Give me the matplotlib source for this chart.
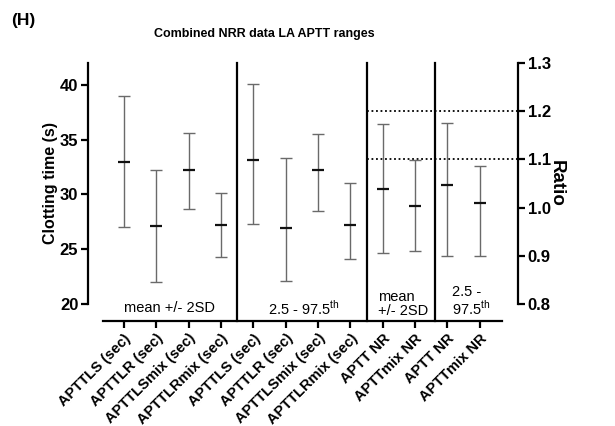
import numpy as np
import matplotlib
matplotlib.use('Agg')
import matplotlib.pyplot as plt

plt.rcParams['font.family'] = ['Liberation Sans', 'DejaVu Sans']
plt.rcParams['mathtext.fontset'] = 'custom'
plt.rcParams['mathtext.rm'] = 'Liberation Sans'

# ---- data ----
labels = ['APTTLS (sec)', 'APTTLR (sec)', 'APTTLSmix (sec)', 'APTTLRmix (sec)',
          'APTTLS (sec)', 'APTTLR (sec)', 'APTTLSmix (sec)', 'APTTLRmix (sec)',
          'APTT NR', 'APTTmix NR', 'APTT NR', 'APTTmix NR']

time_mean = [33.0, 27.1, 32.2, 27.2, 33.1, 26.9, 32.2, 27.2]
time_low = [27.0, 22.0, 28.7, 24.3, 27.3, 22.1, 28.45, 24.1]
time_high = [39.0, 32.2, 35.6, 30.1, 40.1, 33.3, 35.5, 31.0]

ratio_mean = [1.039, 1.004, 1.047, 1.009]
ratio_low = [0.906, 0.910, 0.900, 0.900]
ratio_high = [1.173, 1.098, 1.176, 1.087]

th = '$^{\\mathrm{th}}$'
group_labels = ['mean +/- 2SD', '2.5 - 97.5' + th, 'mean\n+/- 2SD', '2.5 -\n97.5' + th]
group_pos = [1.4, 5.55, 7.85, 10.14]
separators = [3.5, 7.5, 9.6]
ratio_limits = [1.1, 1.2]

fig = plt.figure(figsize=(6.15, 4.26), dpi=100)
ax = fig.add_axes([0.1431, 0.2864, 0.6992, 0.5657])
ax2 = ax.twinx()

x_time = np.arange(len(time_mean))
x_ratio = np.arange(len(time_mean), len(labels))

err_col = '#6a6a6a'

def draw_bars(a, x, mean, low, high):
    mean = np.array(mean)
    yerr = [mean - np.array(low), np.array(high) - mean]
    a.errorbar(x, mean, yerr=yerr, fmt='none', ecolor=err_col, elinewidth=1.0,
               capsize=4, capthick=1.0, zorder=3)
    a.plot(x, mean, linestyle='none', marker='_', markersize=8, mew=1.6,
           color='#111111', zorder=4)

draw_bars(ax, x_time, time_mean, time_low, time_high)
draw_bars(ax2, x_ratio, ratio_mean, ratio_low, ratio_high)

ax.set_xlim(-1.11, 12.18)
ax.set_ylim(20, 42)
ax2.set_ylim(0.8, 1.3)

# dotted reference lines on ratio scale
ax2.hlines(ratio_limits, separators[1], 12.18, colors='black', linestyles=(0, (1, 1.5)),
           linewidth=1.3, zorder=2)

# group separators, run down to the offset x axis
trans = ax.get_xaxis_transform()
for s in separators:
    ax.plot([s, s], [-0.0705, 1], transform=trans, color='black', lw=1.6,
            clip_on=False, zorder=5)

for i, (p, t) in enumerate(zip(group_pos, group_labels)):
    if i < 2:
        ax.text(p, -0.018, t, transform=trans, ha='center', va='center', fontsize=10.5)
    else:
        ax.text(p, -0.058, t, transform=trans, ha='left', va='bottom',
                fontsize=10.5, multialignment='left', linespacing=1.0)

# spines
for a in (ax, ax2):
    a.spines['top'].set_visible(False)
ax.spines['right'].set_visible(False)
ax2.spines['left'].set_visible(False)
ax2.spines['bottom'].set_visible(False)
ax.spines['bottom'].set_position(('outward', 12.2))
ax.spines['bottom'].set_bounds(-0.65, 11.68)
for sp in (ax.spines['left'], ax.spines['bottom'], ax2.spines['right']):
    sp.set_linewidth(1.6)

ax.set_yticks([20, 25, 30, 35, 40])
ax2.set_yticks([0.8, 0.9, 1.0, 1.1, 1.2, 1.3])
ax2.set_yticklabels(['0.8', '0.9', '1.0', '1.1', '1.2', '1.3'])

ax.set_xticks(np.arange(len(labels)))
ax.set_xticklabels(labels, rotation=45, ha='right', rotation_mode='anchor',
                   fontsize=10.5, fontweight='bold')
ax.tick_params(axis='x', length=5, width=1.6, pad=2.5)
ax.tick_params(axis='y', length=5, width=1.6, pad=2, labelsize=12)
ax2.tick_params(axis='y', length=5, width=1.6, pad=2, labelsize=12)
for lab in ax.get_yticklabels() + ax2.get_yticklabels():
    lab.set_fontweight('bold')

ax.set_ylabel('Clotting time (s)', fontsize=11.5, fontweight='bold', labelpad=1)
ax2.set_ylabel('Ratio', fontsize=13.5, fontweight='bold', rotation=270, labelpad=10)

fig.text(0.43, 0.92, 'Combined NRR data LA APTT ranges', ha='center', va='center',
         fontsize=9, fontweight='bold')
fig.text(0.038, 0.951, '(H)', ha='center', va='center', fontsize=12.5, fontweight='bold')

fig.savefig('out.png', dpi=100)
